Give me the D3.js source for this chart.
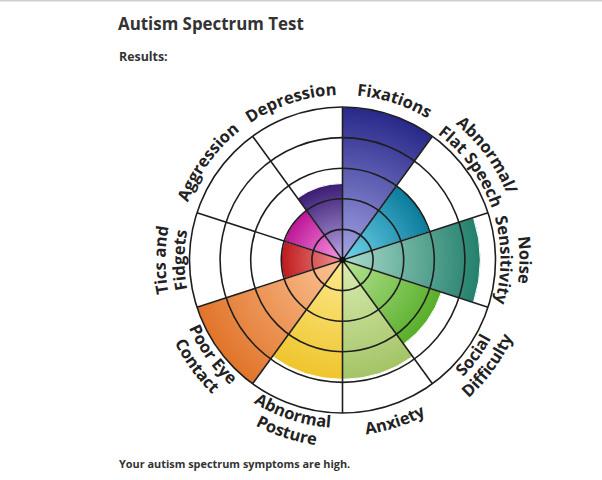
<!DOCTYPE html>
<html><head><meta charset="utf-8">
<script src="https://cdn.jsdelivr.net/npm/d3@7"></script>
<style>
body{margin:0;background:#fff;overflow:hidden;}
svg{display:block;font-family:"Open Sans",sans-serif;}
</style></head><body>
<svg id="c" width="602" height="480"></svg>
<script>
// ---- data ----
const categories = ["Fixations","Abnormal/Flat Speech","Noise Sensitivity","Social Difficulty","Anxiety","Abnormal Posture","Poor Eye Contact","Tics and Fidgets","Aggression","Depression"];
const labelLines = [["Fixations"],["Abnormal/","Flat Speech"],["Noise","Sensitivity"],["Social","Difficulty"],["Anxiety"],["Abnormal","Posture"],["Poor Eye","Contact"],["Tics and","Fidgets"],["Aggression"],["Depression"]];
const values = [5, 3, 4.5, 3.4, 3.9, 3.9, 5, 2, 2, 2.5];
const ringTicks = [1, 2, 3, 4, 5];
const outerColors = ["#28288a","#0a7c9c","#23806c","#58ae2a","#a4c466","#efc52c","#e1742a","#bf1a1c","#bd1596","#3a1c72"];
const innerColors = ["#a4a4e6","#74d6ee","#acdccd","#b8e494","#daedb4","#fdea90","#fcc496","#f39292","#f898e6","#bca6e6"];
const title = "Autism Spectrum Test";
const subtitle = "Results:";
const footer = "Your autism spectrum symptoms are high.";

// ---- layout ----
const svg = d3.select("#c");
svg.append("line").attr("x1",0).attr("x2",602).attr("y1",0.5).attr("y2",0.5).attr("stroke","#cfcfcf").attr("stroke-width",2);
svg.append("text").attr("x",118).attr("y",30).attr("font-size",16.9).attr("font-weight",700).attr("fill","#333").text(title);
svg.append("text").attr("x",119).attr("y",61).attr("font-size",12.4).attr("font-weight",700).attr("fill","#333").text(subtitle);
svg.append("text").attr("x",119).attr("y",468).attr("font-size",10.9).attr("font-weight",700).attr("fill","#333").text(footer);

const cx = 342.5, cy = 260, R = 153;
const g = svg.append("g").attr("transform",`translate(${cx},${cy})`);
const r = d3.scaleLinear().domain([0,5]).range([0,R]);
const a = d3.scaleBand().domain(categories).range([0, 2*Math.PI]);

const defs = svg.append("defs");
categories.forEach((c,i)=>{
  const gr = defs.append("radialGradient").attr("id","grad"+i)
    .attr("gradientUnits","userSpaceOnUse").attr("cx",0).attr("cy",0).attr("r",r(values[i]));
  gr.append("stop").attr("offset","0%").attr("stop-color",innerColors[i]);
  gr.append("stop").attr("offset","100%").attr("stop-color",outerColors[i]);
});

const arc = d3.arc().innerRadius(0)
  .outerRadius((d,i)=>r(values[i]))
  .startAngle((d)=>a(d)).endAngle(d=>a(d)+a.bandwidth());

g.selectAll("path.seg").data(categories).join("path").attr("class","seg")
  .attr("d",(d,i)=>arc(d,i)).attr("fill",(d,i)=>`url(#grad${i})`)
  .attr("stroke","#fff").attr("stroke-width",1);

// rings
g.selectAll("circle.ring").data(ringTicks).join("circle").attr("class","ring")
  .attr("r",d=>r(d)).attr("fill","none").attr("stroke","#1e1e1e").attr("stroke-width",1.6);
// spokes
g.selectAll("line.spoke").data(categories).join("line").attr("class","spoke")
  .attr("x1",0).attr("y1",0)
  .attr("x2",d=>R*Math.sin(a(d))).attr("y2",d=>-R*Math.cos(a(d)))
  .attr("stroke","#1e1e1e").attr("stroke-width",1.6);
g.append("circle").attr("r",3.2).attr("fill","#111");

// curved labels
const fs = 16.5;
function pt(rad, th){ return [rad*Math.sin(th), -rad*Math.cos(th)]; }
categories.forEach((c,i)=>{
  const mid = a(c) + a.bandwidth()/2;
  const deg = mid*180/Math.PI;
  const flipped = deg > 91 && deg < 269;
  const lines = labelLines[i];
  const span = Math.PI/3;
  lines.forEach((txt,j)=>{
    let rad;
    if(!flipped){
      if(lines.length===1) rad = 165;
      else rad = 158 + (lines.length-1-j)*19;
    } else {
      if(lines.length===1) rad = 176;
      else rad = 168 + j*19;
    }
    const id = `lp${i}_${j}`;
    let p0, p1, sweep;
    if(!flipped){ p0 = pt(rad, mid-span); p1 = pt(rad, mid+span); sweep = 1; }
    else { p0 = pt(rad, mid+span); p1 = pt(rad, mid-span); sweep = 0; }
    defs.append("path").attr("id",id)
      .attr("d",`M${p0[0]+cx},${p0[1]+cy} A${rad},${rad} 0 0 ${sweep} ${p1[0]+cx},${p1[1]+cy}`);
    svg.append("text").attr("font-size",fs).attr("font-weight",700).attr("fill","#222")
      .append("textPath").attr("href","#"+id).attr("startOffset","50%").attr("text-anchor","middle").text(txt);
  });
});
</script>
</body></html>
